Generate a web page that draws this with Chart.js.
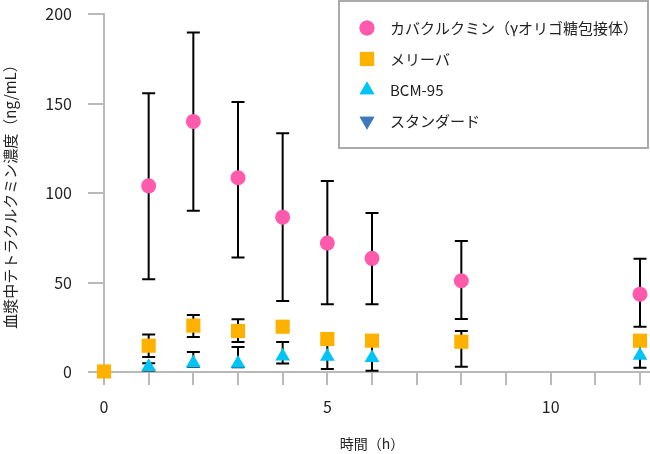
<!DOCTYPE html>
<html>
<head>
<meta charset="utf-8">
<script src="https://cdn.jsdelivr.net/npm/chart.js@4/dist/chart.umd.min.js"></script>
<style>
  html, body { margin: 0; padding: 0; background: #fff; }
  #wrap { width: 650px; height: 454px; }
</style>
</head>
<body>
<div id="wrap"><canvas id="grafica" width="650" height="454"></canvas></div>
<script>
// datos
const tiempos = [0, 1, 2, 3, 4, 5, 6, 8, 12];

const curcumina = [null, 104, 140, 108.5, 86.5, 72, 63.5, 51, 43.5];
const curcuminaArriba = [0, 51.7, 49.6, 42.3, 46.9, 34.7, 25.3, 22.2, 19.8];
const curcuminaAbajo = [0, 52.2, 49.9, 44.5, 46.8, 34.2, 25.7, 21.4, 18.2];

const meriva = [0.3, 14.7, 25.9, 22.9, 25.3, 18.4, 17.5, 16.9, 17.5];
const merivaArriba = [0, 6.3, 5.9, 6.5, 2, 2.5, 2, 6, 2];
const merivaAbajo = [0, 6.3, 6.3, 6.1, 2, 2.5, 2, 13.9, 2];

const bcm95 = [null, 2.9, 5, 4.7, 8.8, 8.7, 8.0, null, 9.2];
const bcm95Arriba = [0, 2, 6.2, 9.3, 8, 8, 8, 0, 6];
const bcm95Abajo = [0, 2, 2, 2, 4, 7, 7.3, 0, 6.8];

const estandar = []; // solo aparece en la leyenda

const etiquetas = ["カバクルクミン（γオリゴ糖包接体）", "メリーバ", "BCM-95", "スタンダード"];
const ticksX = [0, 5, 10];
const ticksY = [0, 50, 100, 150, 200];

const fuente = '"Noto Sans CJK JP", "Noto Sans", sans-serif';
const gris = "#b9b9b9";

const puntos = (ys) => tiempos.map((t, i) => ({ x: t, y: ys[i] })).filter(p => p.y !== null);

const series = [
    { label: etiquetas[0], data: puntos(curcumina), up: curcuminaArriba, down: curcuminaAbajo, vals: curcumina,
      pointStyle: "circle", pointRadius: 7.5, backgroundColor: "#ff5aab", borderColor: "#ff5aab" },
    { label: etiquetas[1], data: puntos(meriva), up: merivaArriba, down: merivaAbajo, vals: meriva,
      pointStyle: "rect", pointRadius: 10, backgroundColor: "#ffb100", borderColor: "#ffb100" },
    { label: etiquetas[2], data: puntos(bcm95), up: bcm95Arriba, down: bcm95Abajo, vals: bcm95,
      pointStyle: "triangle", pointRadius: 8.5, backgroundColor: "#00c4f6", borderColor: "#00c4f6" },
    { label: etiquetas[3], data: estandar, up: [], down: [], vals: [],
      pointStyle: "triangle", rotation: 180, pointRadius: 8.5, backgroundColor: "#3f79bd", borderColor: "#3f79bd" }
];

// barras de error (media ± DE)
const barrasError = {
    id: "barrasError",
    beforeDatasetsDraw(chart) {
        const { ctx, scales: { x, y } } = chart;
        ctx.save();
        // el eje X sigue hasta el borde derecho
        ctx.strokeStyle = gris;
        ctx.lineWidth = 2;
        ctx.beginPath();
        ctx.moveTo(chart.chartArea.right, y.getPixelForValue(0));
        ctx.lineTo(chart.width, y.getPixelForValue(0));
        ctx.stroke();

        ctx.strokeStyle = "#000";
        series.forEach(s => {
            s.vals.forEach((v, i) => {
                if (v === null || (!s.up[i] && !s.down[i])) return;
                const px = x.getPixelForValue(tiempos[i]);
                const yTop = y.getPixelForValue(v + s.up[i]);
                const yBot = y.getPixelForValue(v - s.down[i]);
                ctx.beginPath();
                ctx.moveTo(px, yTop); ctx.lineTo(px, yBot);
                ctx.moveTo(px - 6.5, yTop); ctx.lineTo(px + 6.5, yTop);
                ctx.moveTo(px - 6.5, yBot); ctx.lineTo(px + 6.5, yBot);
                ctx.stroke();
            });
        });
        ctx.restore();
    }
};

// leyenda dentro del área del gráfico
const leyenda = {
    id: "leyenda",
    afterDraw(chart) {
        const ctx = chart.ctx;
        ctx.save();
        ctx.fillStyle = "#fff";
        ctx.fillRect(339, 1, 309, 147);
        ctx.strokeStyle = "#aaa";
        ctx.lineWidth = 2;
        ctx.strokeRect(339, 1, 309, 147);
        ctx.font = "15px " + fuente;
        ctx.textBaseline = "middle";
        ctx.textAlign = "left";
        chart.data.datasets.forEach((ds, i) => {
            const yy = 28 + i * 31;
            ctx.fillStyle = ds.backgroundColor;
            ctx.strokeStyle = ds.borderColor;
            Chart.helpers.drawPoint(ctx, {
                pointStyle: ds.pointStyle, rotation: ds.rotation || 0,
                radius: ds.pointRadius, borderWidth: 0
            }, 367, yy);
            ctx.fill();
            ctx.fillStyle = "#222";
            ctx.fillText(ds.label, 390, yy);
        });
        ctx.restore();
    }
};

new Chart(document.getElementById("grafica"), {
    type: "scatter",
    data: {
        datasets: series.map(s => ({
            label: s.label,
            data: s.data,
            pointStyle: s.pointStyle,
            rotation: s.rotation || 0,
            pointRadius: s.pointRadius,
            pointHoverRadius: s.pointRadius,
            pointBorderWidth: 0,
            backgroundColor: s.backgroundColor,
            borderColor: s.borderColor,
            clip: false
        }))
    },
    options: {
        responsive: false,
        animation: false,
        layout: { padding: { top: 14, right: 0, left: 0, bottom: 0 } },
        plugins: { legend: { display: false }, tooltip: { enabled: false } },
        scales: {
            x: {
                type: "linear",
                min: 0,
                max: 12,
                afterBuildTicks: (s) => { s.ticks = s.ticks.filter(t => Number.isInteger(t.value)); },
                afterFit: (s) => { s.height = 82; s.paddingLeft = 0; s.paddingRight = 0; },
                ticks: {
                    stepSize: 1,
                    padding: 12,
                    color: "#222",
                    font: { family: fuente, size: 16 },
                    callback: (v) => ticksX.includes(v) ? String(v) : ""
                },
                grid: { drawOnChartArea: false, drawTicks: true, tickLength: 13, color: gris, lineWidth: 2 },
                border: { color: gris, width: 2 },
                title: {
                    display: true, text: "時間（h）", color: "#222",
                    font: { family: fuente, size: 14 },
                    padding: { top: 0, bottom: 2 }
                }
            },
            y: {
                min: 0,
                max: 200,
                afterBuildTicks: (s) => { s.ticks = ticksY.map(v => ({ value: v })); },
                afterFit: (s) => { s.width = 104; s.paddingTop = 0; s.paddingBottom = 0; },
                ticks: {
                    stepSize: 50,
                    padding: 16,
                    color: "#222",
                    font: { family: fuente, size: 16 }
                },
                grid: { drawOnChartArea: false, drawTicks: true, tickLength: 16, color: gris, lineWidth: 2 },
                border: { color: gris, width: 2 },
                title: {
                    display: true, text: "血漿中テトラクルクミン濃度（ng/mL）", color: "#222",
                    font: { family: fuente, size: 15 },
                    padding: { top: 1, bottom: 0 }
                }
            }
        }
    },
    plugins: [barrasError, leyenda]
});
</script>
</body>
</html>
